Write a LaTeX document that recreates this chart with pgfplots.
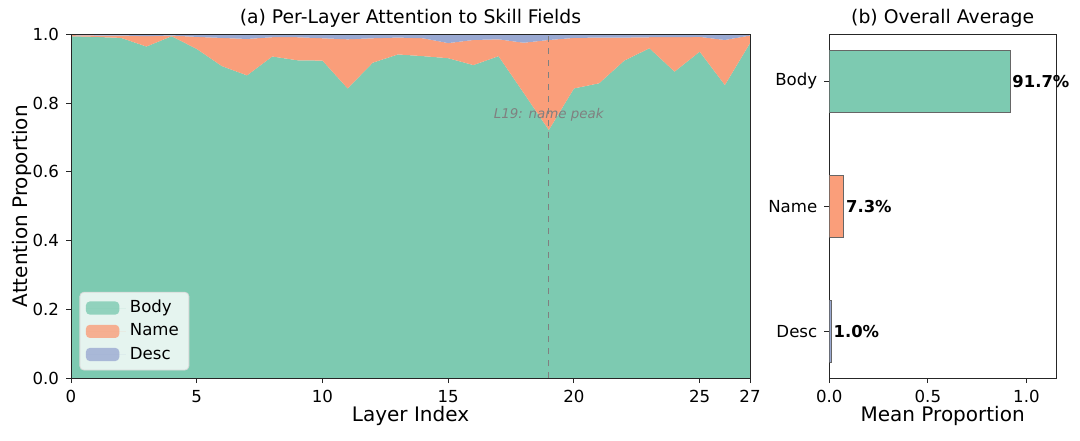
\documentclass[border=0pt]{standalone}
\usepackage{fontspec}
\setmainfont{DejaVu Sans}
\usepackage{pgfplots}
\pgfplotsset{compat=1.18}
\usepackage{pgfplotstable}

\definecolor{cbody}{HTML}{7DCAB1}
\definecolor{cname}{HTML}{FA9E7A}
\definecolor{cdesc}{HTML}{9AA9D2}

% per-layer proportions
\pgfplotstableread{
layer body name desc
0  0.995 0.003 0.002
1  0.993 0.004 0.003
2  0.990 0.007 0.003
3  0.965 0.030 0.005
4  0.995 0.002 0.003
5  0.958 0.035 0.007
6  0.908 0.082 0.010
7  0.881 0.106 0.013
8  0.936 0.056 0.008
9  0.925 0.067 0.008
10 0.924 0.065 0.011
11 0.843 0.143 0.014
12 0.918 0.071 0.011
13 0.942 0.049 0.009
14 0.937 0.052 0.011
15 0.931 0.044 0.025
16 0.911 0.073 0.016
17 0.937 0.049 0.014
18 0.830 0.146 0.024
19 0.722 0.262 0.016
20 0.843 0.147 0.010
21 0.858 0.133 0.009
22 0.924 0.067 0.009
23 0.960 0.032 0.008
24 0.892 0.100 0.008
25 0.950 0.043 0.007
26 0.853 0.131 0.016
27 0.975 0.022 0.003
}\layers

\begin{document}
\begin{tikzpicture}
\path[use as bounding box] (0,0) rectangle (540pt,220pt);

\pgfplotsset{
  every axis/.append style={
    scale only axis,
    anchor=south west,
    axis line style={line width=0.5pt, black!85},
    tick align=outside,
    major tick length=2.5pt,
    every tick/.style={black!85, line width=0.5pt},
    tick label style={font=\fontsize{8.3}{9}\selectfont},
    label style={font=\fontsize{10}{12}\selectfont},
    title style={font=\fontsize{9.4}{11}\selectfont, yshift=-6pt},
    /pgf/number format/assume math mode=true,
  },
}

\begin{axis}[
  at={(35.5pt,31pt)},
  width=339.5pt, height=171.75pt,
  xmin=0, xmax=27, ymin=0, ymax=1,
  xtick={0,5,10,15,20,25,27},
  ytick={0,0.2,0.4,0.6,0.8,1.0},
  yticklabel style={/pgf/number format/.cd, fixed, fixed zerofill, precision=1},
  xtick pos=bottom, ytick pos=left,
  xlabel={Layer Index},
  ylabel={Attention Proportion},
  xlabel style={yshift=5pt},
  ylabel style={yshift=-6.5pt},
  title={(a) Per-Layer Attention to Skill Fields},
  legend style={at={(0.0125,0.022)}, anchor=south west,
    draw=black!15, rounded corners=2pt, fill=white, fill opacity=0.8,
    text opacity=1, font=\fontsize{8.3}{9}\selectfont,
    row sep=0pt, inner xsep=3pt, inner ysep=2pt},
  legend cell align=left,
  legend image code/.code={\fill[#1] (0pt,-3.3pt) rectangle (16.7pt,3.3pt);
    \path (0pt,0pt) -- (20pt,0pt);},
  axis on top,
]
\addplot[fill=cbody, draw=none, stack plots=y] table[x=layer, y=body] {\layers} \closedcycle;
\addplot[fill=cname, draw=none, stack plots=y] table[x=layer, y=name] {\layers} \closedcycle;
\addplot[fill=cdesc, draw=none, stack plots=y] table[x=layer, y=desc] {\layers} \closedcycle;
\legend{Body, Name, Desc}
\addplot[gray, dashed, line width=0.4pt, forget plot] coordinates {(19,0) (19,1)};
\coordinate (peak) at (axis cs:19,0.766);
\end{axis}
\node[text=gray, font=\fontsize{6.7}{8}\selectfont\itshape] at (peak) {L19: name peak};

\begin{axis}[
  at={(414.65pt,31pt)},
  width=113.35pt, height=171.75pt,
  xmin=0, xmax=1.15, ymin=-0.375, ymax=2.375,
  xtick={0,0.5,1.0},
  xticklabel style={/pgf/number format/.cd, fixed, fixed zerofill, precision=1},
  ytick={0,1,2},
  yticklabels={Desc, Name, Body},
  xtick pos=bottom, ytick pos=left,
  xlabel={Mean Proportion},
  xlabel style={yshift=5pt},
  title={(b) Overall Average},
  xbar, bar width=0.5, bar shift=0pt,
  nodes near coords align=horizontal,
  every node near coord/.append style={font=\fontsize{8.2}{9}\selectfont\bfseries, inner xsep=1pt},
]
\addplot[fill=cbody, draw=black!60, line width=0.4pt, nodes near coords={91.7\%}] coordinates {(0.917,2)};
\addplot[fill=cname, draw=black!60, line width=0.4pt, nodes near coords={7.3\%}] coordinates {(0.073,1)};
\addplot[fill=cdesc, draw=black!60, line width=0.4pt, nodes near coords={1.0\%}] coordinates {(0.010,0)};
\end{axis}
\end{tikzpicture}
\end{document}
